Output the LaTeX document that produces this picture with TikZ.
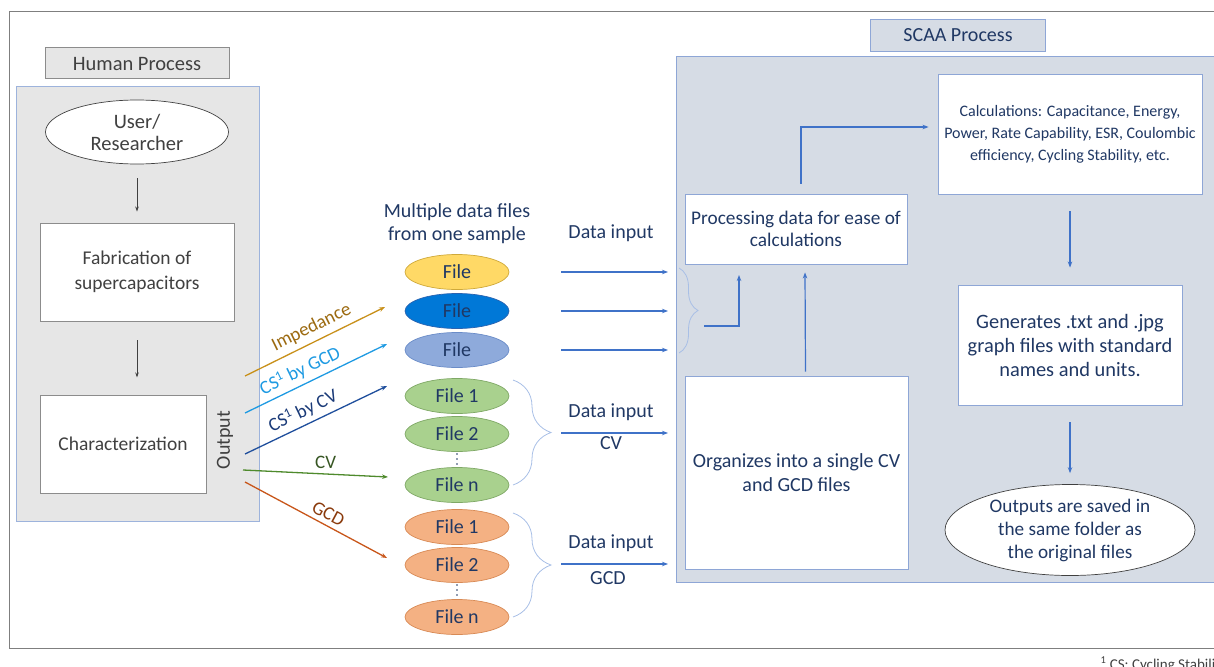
\documentclass[tikz,border=0pt]{standalone}
\usepackage{fontspec}
\setmainfont{Carlito}
\usetikzlibrary{shapes.geometric, arrows.meta, decorations.pathreplacing}

\newcommand{\fsz}[2]{\fontsize{#1}{#2}\selectfont}

\definecolor{framegray}{HTML}{7F7F7F}
\definecolor{boxgray}{HTML}{8C8C8C}
\definecolor{textgray}{HTML}{404040}
\definecolor{hpanel}{HTML}{E6E6E6}
\definecolor{hborder}{HTML}{9DB3DC}
\definecolor{spanel}{HTML}{D6DCE5}
\definecolor{sborder}{HTML}{8EA6D6}
\definecolor{navy}{HTML}{203864}
\definecolor{arrblue}{HTML}{3F72C8}
\definecolor{bracecol}{HTML}{A8BFE6}
\definecolor{impcol}{HTML}{C8901A}
\definecolor{implab}{HTML}{9C6A10}
\definecolor{gcdcol}{HTML}{1E9AE2}
\definecolor{cvcol}{HTML}{1F4E9C}
\definecolor{cvlab}{HTML}{1A3A78}
\definecolor{grncol}{HTML}{4E8A2C}
\definecolor{grnlab}{HTML}{375623}
\definecolor{orgcol}{HTML}{C8561A}
\definecolor{orglab}{HTML}{8A3A0C}
\definecolor{fyellow}{HTML}{FFD966}
\definecolor{fyellowd}{HTML}{CFA93A}
\definecolor{fblue}{HTML}{0078D7}
\definecolor{fblued}{HTML}{2A63B0}
\definecolor{fmid}{HTML}{8EAADB}
\definecolor{fmidd}{HTML}{6A8CC8}
\definecolor{fgreen}{HTML}{A9D18E}
\definecolor{fgreend}{HTML}{7FA866}
\definecolor{forange}{HTML}{F4B183}
\definecolor{foranged}{HTML}{D88A55}

\tikzset{
  hlabel/.style={draw=boxgray, fill=hpanel, line width=1pt, text=textgray, font=\fsz{20.5}{24}},
  slabel/.style={draw=sborder, fill=spanel, line width=1pt, text=navy, font=\fsz{20}{24}},
  hbox/.style={draw=boxgray, fill=white, line width=0.9pt, align=center, text=textgray, font=\fsz{19.5}{25}},
  hell/.style={ellipse, draw=textgray, fill=white, line width=0.7pt, inner sep=0pt, align=center, text=textgray, font=\fsz{20.5}{22}},
  sbox/.style={draw=sborder, fill=white, line width=0.9pt, align=center, text=navy},
  filenode/.style={ellipse, line width=0.7pt, minimum width=104pt, minimum height=35pt, inner sep=0pt, text=navy, font=\fsz{20}{22}},
  navytext/.style={text=navy, align=center, font=\fsz{20}{23}},
  linelabel/.style={font=\fsz{19}{22}},
  harrow/.style={draw=textgray, line width=0.8pt, -{Stealth[length=5pt,width=3.5pt]}},
  flow/.style={draw=arrblue, line width=1.2pt, -{Stealth[length=6pt,width=4.5pt]}},
  outline/.style={line width=1.3pt, -{Stealth[length=6pt,width=4.5pt]}},
  curly/.style={draw=bracecol, line width=0.8pt, decorate, decoration={brace, amplitude=#1}}
}

\begin{document}
\begin{tikzpicture}[x=1pt,y=-1pt]
\useasboundingbox (0,0) rectangle (1214,666);

% outer frame and footnote
\draw[framegray, line width=0.9pt] (9,11) rectangle (1240,648);
\node[anchor=base west, text=textgray, font=\fsz{15}{17}] (note) at (1097,669) {\textsuperscript{1} CS: Cycling Stability};

% human side
\node[hlabel, minimum width=184pt, minimum height=31pt] (hlab) at (137,63.5) {Human Process};
\draw[fill=hpanel, draw=hborder, line width=0.9pt] (16,86) rectangle (259,521);
\node[hell, minimum width=183pt, minimum height=64pt] (user) at (137,132) {User/\\Researcher};
\node[hbox, minimum width=194pt, minimum height=98pt] (fab) at (137,272) {Fabrication of\\supercapacitors};
\node[hbox, minimum width=166pt, minimum height=98pt] (char) at (123,444) {Characterization};
\node[rotate=90, text=textgray, font=\fsz{20}{22}] (outlab) at (225,440) {Output};

\draw[harrow] ([yshift=-14pt]user.south) -- ([yshift=11pt]fab.north);
\draw[harrow] ([yshift=-19pt]fab.south) -- ++(0,37);

% measurement outputs
\coordinate (o1) at (245,376); \coordinate (e1) at (385,307);
\coordinate (o2) at (245,413); \coordinate (e2) at (387,344);
\coordinate (o3) at (245,454); \coordinate (e3) at (387,386);
\coordinate (o4) at (243,470); \coordinate (e4) at (388,477);
\coordinate (o5) at (245,482); \coordinate (e5) at (387,558);

\draw[outline, impcol] (o1) -- node[linelabel, sloped, above=2pt, pos=0.52, text=implab] {Impedance} (e1);
\draw[outline, gcdcol] (o2) -- node[linelabel, sloped, above=1pt, pos=0.43, text=gcdcol] {CS\textsuperscript{1} by GCD} (e2);
\draw[outline, cvcol] (o3) -- node[linelabel, sloped, above=1pt, pos=0.45, text=cvlab] {CS\textsuperscript{1} by CV} (e3);
\draw[outline, grncol] (o4) -- node[linelabel, above=1pt, pos=0.57, text=grnlab] {CV} (e4);
\draw[outline, orgcol] (o5) -- node[linelabel, sloped, above=1pt, pos=0.55, text=orglab] {GCD} (e5);

% data files
\node[navytext] (multi) at (457,224) {Multiple data files\\from one sample};
\node[filenode, fill=fyellow, draw=fyellowd] (fA) at (457,272) {File};
\node[filenode, fill=fblue, draw=fblued] (fB) at (457,311) {File};
\node[filenode, fill=fmid, draw=fmidd] (fC) at (457,350) {File};
\node[filenode, fill=fgreen, draw=fgreend] (cv1) at (457,396) {File 1};
\node[filenode, fill=fgreen, draw=fgreend] (cv2) at (457,434) {File 2};
\node[filenode, fill=fgreen, draw=fgreend] (cvn) at (457,485) {File n};
\node[filenode, fill=forange, draw=foranged] (gcd1) at (457,527) {File 1};
\node[filenode, fill=forange, draw=foranged] (gcd2) at (457,565) {File 2};
\node[filenode, fill=forange, draw=foranged] (gcdn) at (457,617) {File n};
\foreach \y in {454,459,464,585,590,595}
  \fill[navy] (457,\y) circle (0.9pt);

\draw[curly=38pt] (513,380) -- (513,485);
\draw[curly=38pt] (513,513) -- (513,617);

% data input arrows
\node[navytext] (din1) at (611,233) {Data input};
\node[navytext] (din2) at (611,412) {Data input};
\node[navytext] (cvin) at (611,443) {CV};
\node[navytext] (din3) at (611,543) {Data input};
\node[navytext] (gcdin) at (608,578) {GCD};
\foreach \y [count=\i] in {272,311,350,433,564} {
  \coordinate (in\i) at (561,\y);
  \coordinate (to\i) at (668,\y);
  \draw[flow] (in\i) -- (to\i);
}

% SCAA side
\node[slabel, minimum width=175pt, minimum height=32pt] (slab) at (958,35.5) {SCAA Process};
\draw[fill=spanel, draw=sborder, line width=0.9pt] (676,56) rectangle (1240,582);

\node[sbox, minimum width=264pt, minimum height=120pt, font=\fsz{16}{22}] (calc) at (1070,134)
  {Calculations: Capacitance, Energy,\\Power, Rate Capability, ESR, Coulombic\\efficiency, Cycling Stability, etc.};
\node[sbox, minimum width=222pt, minimum height=70pt, font=\fsz{19.3}{22}] (proc) at (796,229)
  {Processing data for ease of\\calculations};
\node[sbox, minimum width=223pt, minimum height=193pt, font=\fsz{20}{24}] (org) at (796.5,472.5)
  {Organizes into a single CV\\and GCD files};
\node[sbox, minimum width=224pt, minimum height=120pt, font=\fsz{20.4}{24}] (gen) at (1070,345)
  {Generates .txt and .jpg\\graph files with standard\\names and units.};
\node[ellipse, draw=textgray, fill=white, line width=0.7pt, inner sep=0pt, align=center, text=navy,
  minimum width=250pt, minimum height=91pt, font=\fsz{19.2}{23}] (saved) at (1070,530)
  {Outputs are saved in\\the same folder as\\the original files};

\draw[curly=19pt] (679,268) -- (679,353);
\coordinate (join) at (704,326);
\draw[flow] (join) -- ++(35,0) -- ++(0,-51);

\draw[flow] ([xshift=9pt,yshift=4pt]org.north) -- ([xshift=9pt,yshift=-8pt]proc.south);
\draw[flow] ([xshift=5pt,yshift=10pt]proc.north) |- ([xshift=-9pt,yshift=7pt]calc.west);
\draw[flow] ([yshift=-17pt]calc.south) -- ([yshift=17pt]gen.north);
\draw[flow] ([yshift=-17pt]gen.south) -- ([yshift=11pt]saved.north);

\end{tikzpicture}
\end{document}
